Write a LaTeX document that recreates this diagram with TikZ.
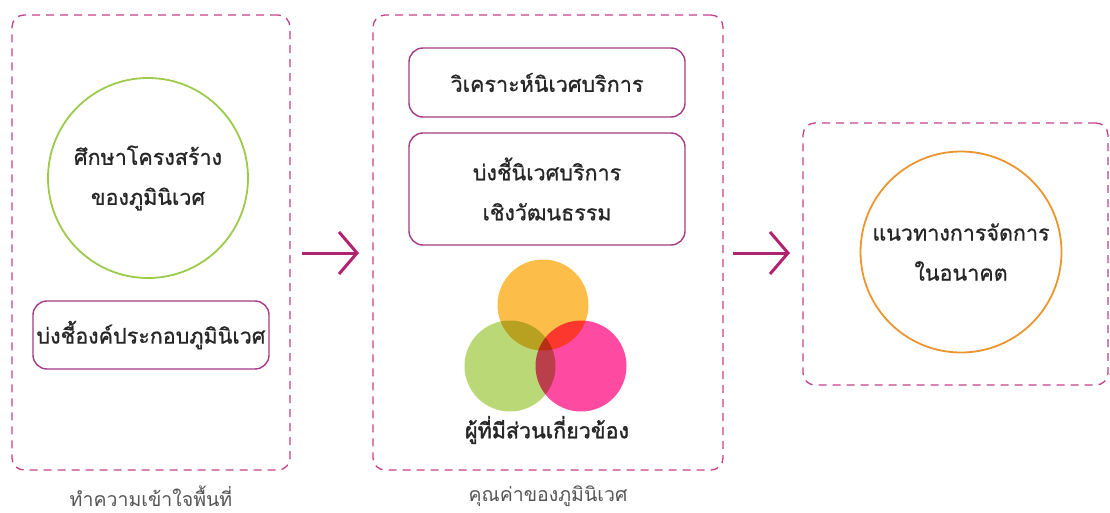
\documentclass[tikz,border=0pt]{standalone}
\usepackage{fontspec}
\newfontfamily\thaifont[Script=Thai]{Loma}
\newfontfamily\thaimid[Script=Thai,FakeBold=0.8]{Loma}
\newfontfamily\thaibold[Script=Thai,FakeBold=1.6]{Loma}
\usetikzlibrary{arrows.meta}
\definecolor{dashc}{HTML}{C4408A}
\definecolor{boxc}{HTML}{A53A85}
\definecolor{greenc}{HTML}{9CCB4C}
\definecolor{orangec}{HTML}{E9962E}
\definecolor{arrowc}{HTML}{B0246F}
\definecolor{txtc}{HTML}{262626}
\definecolor{lblc}{HTML}{555555}
\definecolor{vorange}{HTML}{FCBE48}
\definecolor{vgreen}{HTML}{BBD877}
\definecolor{vpink}{HTML}{FF4AA2}
\tikzset{
  panel/.style={draw=dashc, line width=1.3pt, dash pattern=on 8pt off 6pt, rounded corners=12pt, rectangle, inner sep=0pt},
  itembox/.style={draw=boxc, line width=1.4pt, rounded corners=14pt, rectangle, inner sep=0pt, align=center, font=\thaimid\fontsize{21.5}{40}\selectfont, text=txtc},
  ringnode/.style={circle, line width=1.8pt, inner sep=0pt, align=center, font=\thaimid\fontsize{21.5}{40}\selectfont, text=txtc},
  caption/.style={font=\thaifont\fontsize{19.5}{24}\selectfont, text=lblc},
  flow/.style={draw=arrowc, line width=3pt, -{Straight Barb[length=18pt,width=42pt,line width=3pt]}},
  venn/.style={circle, inner sep=0pt, minimum size=91pt}
}
\begin{document}
\begin{tikzpicture}[x=1pt,y=-1pt]
\useasboundingbox (0,0) rectangle (1110,513);
% panels
\node[panel, minimum width=278pt, minimum height=455pt] (p1) at (151,242.5) {};
\node[panel, minimum width=350pt, minimum height=455pt] (p2) at (548,242.5) {};
\node[panel, minimum width=305pt, minimum height=262pt] (p3) at (955.5,254) {};
% left panel
\node[ringnode, draw=greenc, minimum size=200pt] (c1) at (148,178) {ศึกษาโครงสร้าง\\ของภูมินิเวศ};
\node[itembox, minimum width=236pt, minimum height=68pt] (b1) at (151,335) {บ่งชี้องค์ประกอบภูมินิเวศ};
\node[caption] (l1) at (151,496) {ทำความเข้าใจพื้นที่};
% middle panel
\node[itembox, minimum width=276pt, minimum height=69pt] (b2) at (547,82.5) {วิเคราะห์นิเวศบริการ};
\node[itembox, minimum width=276pt, minimum height=112pt] (b3) at (547,189) {บ่งชี้นิเวศบริการ\\เชิงวัฒนธรรม};
\begin{scope}[blend group=multiply]
\node[venn, fill=vorange] (v1) at (543,305) {};
\node[venn, fill=vgreen] (v2) at (510,366) {};
\node[venn, fill=vpink] (v3) at (581,366) {};
\end{scope}
\node[font=\thaibold\fontsize{21.5}{24}\selectfont, text=txtc] (vt) at (547,430) {ผู้ที่มีส่วนเกี่ยวข้อง};
\node[caption] (l2) at (548,496) {คุณค่าของภูมินิเวศ};
% right panel
\node[ringnode, draw=orangec, minimum size=201pt] (c2) at (961,252) {แนวทางการจัดการ\\ในอนาคต};
% arrows
\coordinate (a1s) at (302,253);
\coordinate (a1e) at (359,253);
\coordinate (a2s) at (733,253);
\coordinate (a2e) at (790,253);
\draw[flow] (a1s) -- (a1e);
\draw[flow] (a2s) -- (a2e);
\end{tikzpicture}
\end{document}
